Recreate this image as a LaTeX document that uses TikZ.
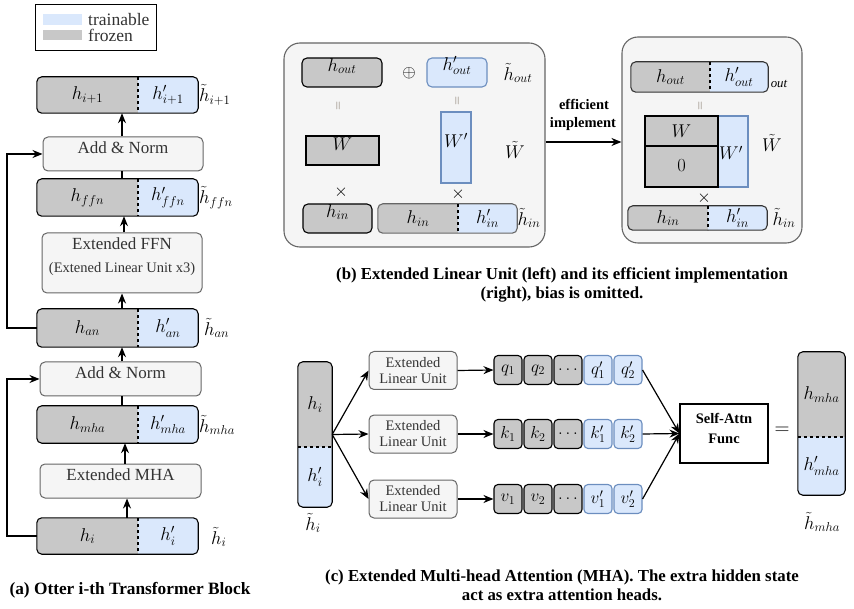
\documentclass[tikz,border=0pt]{standalone}
\usepackage{graphicx}
\usepackage{fontspec}
\setmainfont{Liberation Serif}
\usetikzlibrary{arrows.meta,fit,calc}
\definecolor{gfill}{HTML}{C8C8C8}
\definecolor{bfill}{HTML}{DAE8FC}
\definecolor{bdraw}{HTML}{6C8EBF}
\definecolor{lfill}{HTML}{F5F5F5}
\definecolor{ldraw}{HTML}{666666}
\definecolor{ltext}{HTML}{333333}
\definecolor{eqcol}{HTML}{6A5A4A}

\newcommand\mxx[1]{\scalebox{1.07}{#1}}
% horizontal split box: name, x1,y1,x2,y2, xdiv, left text, right text, border colour
\newcommand\hsplitbox[9]{%
  \node[fit={(#2,#3)(#4,#5)}, inner sep=0pt] (#1) {};
  \begin{scope}
    \clip[rounded corners=5pt] (#1.north west) rectangle (#1.south east);
    \fill[gfill] (#1.north west) rectangle (#6,#5);
    \fill[bfill] (#6,#3) rectangle (#1.south east);
  \end{scope}
  \draw[rounded corners=5pt, line width=1.1pt, draw=#9] (#1.north west) rectangle (#1.south east);
  \draw[dashed, line width=1.1pt] (#6,#3) -- (#6,#5);
  \node[mtext] at ({(#2+#6)/2},{(#3+#5)/2}) {\mxx{#7}};
  \node[mtext] at ({(#6+#4)/2},{(#3+#5)/2}) {\mxx{#8}};
}
% vertical split box: name, x1,y1,x2,y2, ydiv, top text, bottom text
\newcommand\vsplitbox[8]{%
  \node[fit={(#2,#3)(#4,#5)}, inner sep=0pt] (#1) {};
  \begin{scope}
    \clip[rounded corners=5pt] (#1.north west) rectangle (#1.south east);
    \fill[gfill] (#1.north west) rectangle (#4,#6);
    \fill[bfill] (#2,#6) rectangle (#1.south east);
  \end{scope}
  \draw[rounded corners=5pt, line width=1.1pt] (#1.north west) rectangle (#1.south east);
  \draw[dashed, line width=1.1pt] (#2,#6) -- (#4,#6);
  \node[mtext] at ({(#2+#4)/2},{(#3+#6)/2}) {\mxx{#7}};
  \node[mtext] at ({(#2+#4)/2},{(#6+#5)/2}) {\mxx{#8}};
}

\begin{document}
\begin{tikzpicture}[x=1pt,y=-1pt,
  arr/.style={-{Stealth[length=10pt,width=8pt]}, line width=1.2pt},
  ln/.style={line width=1.2pt},
  mtext/.style={font=\fontsize{17.28}{20}\selectfont, inner sep=0pt},
  lbox/.style={draw=ldraw, fill=lfill, rounded corners=5pt, line width=1pt, text=ltext, inner sep=0pt, align=center, font=\fontsize{17}{20}\selectfont},
  elubox/.style={lbox, minimum width=88pt, minimum height=38pt, font=\fontsize{14.5}{16}\selectfont},
  gbox/.style={draw=black, fill=gfill, rounded corners=5pt, line width=1.1pt, inner sep=0pt, font=\fontsize{17.28}{20}\selectfont},
  bbox/.style={draw=bdraw, fill=bfill, rounded corners=5pt, line width=1.1pt, inner sep=0pt, font=\fontsize{17.28}{20}\selectfont},
  gsq/.style={gbox, rounded corners=4pt, minimum width=28pt, minimum height=29pt, font=\fontsize{17.28}{18}\selectfont},
  bsq/.style={bbox, rounded corners=4pt, minimum width=28pt, minimum height=29pt, font=\fontsize{17.28}{18}\selectfont},
  panel/.style={draw=ldraw, fill=lfill, rounded corners=16pt, line width=1.1pt, inner sep=0pt},
  captext/.style={font=\fontsize{16.8}{19}\selectfont\bfseries, align=center, inner sep=0pt},
  eqv/.style={font=\fontsize{12}{12}\selectfont, text=eqcol, rotate=90, inner sep=0pt},
  op/.style={font=\fontsize{17.28}{17}\selectfont, inner sep=0pt}
]
\useasboundingbox (0,0) rectangle (854,609);

% ---------------- legend ----------------
\node[draw=black, line width=1pt, fit={(35,5)(156,51)}, inner sep=0pt] (legend) {};
\node[fill=bfill, fit={(43,14)(82,25)}, inner sep=0pt] (legb) {};
\node[fill=gfill, fit={(43,30)(82,40)}, inner sep=0pt] (legg) {};
\node[anchor=west, font=\fontsize{17.5}{17}\selectfont, text=ltext, inner sep=0pt] (legbt) at (88,20) {trainable};
\node[anchor=west, font=\fontsize{17.5}{17}\selectfont, text=ltext, inner sep=0pt] (leggt) at (88,35) {frozen};

% ---------------- panel (a) ----------------
\coordinate (xl) at (122,0);
\coordinate (sk) at (7,0);
\hsplitbox{hip}{37}{77}{198}{113}{138}{$h_{i+1}$}{$h'_{i+1}$}{black}
\node[mtext, anchor=west] (hipl) at (199,95) {\mxx{$\tilde h_{i+1}$}};
\node[lbox, fit={(43,137)(203,171)}] (an2) {Add \& Norm};
\hsplitbox{hffn}{37}{179}{198}{216}{138}{$h_{ffn}$}{$h'_{ffn}$}{black}
\node[mtext, anchor=west] (hffnl) at (199,198) {\mxx{$\tilde h_{ffn}$}};
\node[lbox, fit={(42,233)(202,293)}] (ffn) {Extended FFN\\[3pt]{\fontsize{14.5}{16}\selectfont(Extened Linear Unit x3)}};
\hsplitbox{han}{37}{309}{198}{347}{138}{$h_{an}$}{$h'_{an}$}{black}
\node[mtext, anchor=west] (hanl) at (204,328) {\mxx{$\tilde h_{an}$}};
\node[lbox, fit={(40,362)(201,396)}] (an1) {Add \& Norm};
\hsplitbox{hmha}{37}{406}{198}{443}{138}{$h_{mha}$}{$h'_{mha}$}{black}
\node[mtext, anchor=west] (hmhal) at (199,425) {\mxx{$\tilde h_{mha}$}};
\node[lbox, fit={(40,464)(201,498)}] (mha) {Extended MHA};
\hsplitbox{hi}{37}{518}{198}{554}{138}{$h_{i}$}{$h'_{i}$}{black}
\node[mtext, anchor=west] (hil) at (211,537) {\mxx{$\tilde h_{i}$}};

\draw[arr] ($(hi.north -| xl)+(5,0)$) -- ($(mha.south -| xl)+(5,0)$);
\draw[arr] ($(mha.north -| xl)+(3,0)$) -- ($(hmha.south -| xl)+(3,0)$);
\draw[ln] (hmha.north -| xl) -- (an1.south -| xl);
\draw[arr] (an1.north -| xl) -- (han.south -| xl);
\draw[arr] (han.north -| xl) -- (ffn.south -| xl);
\draw[arr] ($(ffn.north -| xl)+(2,0)$) -- ($(hffn.south -| xl)+(2,0)$);
\draw[ln] (hffn.north -| xl) -- (an2.south -| xl);
\draw[arr] (an2.north -| xl) -- (hip.south -| xl);
\draw[arr] (hi.west) -- (hi.west -| sk) |- (an1.west);
\draw[arr] (han.west) -- (han.west -| sk) |- (an2.west);

\node[captext, font=\fontsize{17.3}{19}\selectfont\bfseries] (capa) at (130,590) {(a) Otter i-th Transformer Block};

% ---------------- panel (b) ----------------
\node[panel, fit={(284,43)(545,247)}] (pl) {};
\node[panel, fit={(622,37)(802,243)}] (pr) {};

\node[gbox, fit={(302,58)(382,87)}] (bhout) {\mxx{$h_{out}$}};
\node[op] (oplus) at (409,73) {$\oplus$};
\node[bbox, fit={(427,58)(487,87)}] (bhoutp) {\mxx{$h'_{out}$}};
\node[mtext] (bhoutl) at (518,73) {\mxx{$\tilde h_{out}$}};
\node[eqv] (eq1) at (339,106) {$=$};
\node[eqv] (eq2) at (458,101) {$=$};
\node[gbox, rounded corners=0pt, fit={(306,136)(379,165)}] (bW) {\mxx{$W$}};
\node[bbox, rounded corners=0pt, fit={(441,112)(471,183)}] (bWp) {\mxx{$W'$}};
\node[mtext] (bWl) at (515,150) {\mxx{$\tilde W$}};
\node[op] (x1) at (341,192) {$\times$};
\node[op] (x2) at (458,194) {$\times$};
\node[gbox, fit={(303,204)(372,233)}] (bhin) {\mxx{$h_{in}$}};
\hsplitbox{bhinx}{378}{204}{517}{233}{458}{$h_{in}$}{$h'_{in}$}{ldraw}
\node[mtext] (bhinl) at (529,218) {\mxx{$\tilde h_{in}$}};

\draw[arr] (pl.east |- 0,142) -- (pr.west |- 0,142);
\node[font=\fontsize{14.5}{16}\selectfont\bfseries, inner sep=0pt] (eff1) at (584,104) {efficient};
\node[font=\fontsize{14.5}{16}\selectfont\bfseries, inner sep=0pt] (eff2) at (583,124) {implement};

\hsplitbox{rhout}{631}{62}{768}{92}{710}{$h_{out}$}{$h'_{out}$}{ltext}
\node[font=\fontsize{12}{14}\selectfont, inner sep=0pt] (rhoutl) at (779,84) {\mxx{$\mathit{out}$}};
\node[eqv] (eq3) at (701,106) {$=$};
\node[draw=black, fill=gfill, line width=1.2pt, fit={(645,116)(718,187)}, inner sep=0pt] (rW) {};
\draw[line width=1.2pt] (645,146) -- (718,146);
\node[mtext] (rWt) at (681.5,131) {\mxx{$W$}};
\node[mtext] (rW0) at (681.5,166) {\mxx{$0$}};
\node[bbox, rounded corners=0pt, fit={(718,116)(748,187)}] (rWp) {};
\node[mtext] (rWpt) at (731,153) {\mxx{$W'$}};
\draw[line width=1.2pt] (718,116) rectangle (645,187);
\node[mtext] (rWl) at (772,143) {\mxx{$\tilde W$}};
\node[op] (x3) at (704,198) {$\times$};
\hsplitbox{rhin}{628}{206}{767}{230}{708}{$h_{in}$}{$h'_{in}$}{ltext}
\node[mtext] (rhinl) at (784,218) {\mxx{$\tilde h_{in}$}};

\node[captext] (capb) at (562,285) {(b) Extended Linear Unit (left) and its efficient implementation\\(right), bias is omitted.};

% ---------------- panel (c) ----------------
\vsplitbox{ch}{298}{362}{332}{507}{447}{$h_i$}{$h'_i$}
\node[mtext] (chl) at (313,523) {\mxx{$\tilde h_i$}};

\node[elubox] (eq) at (413,370.5) {Extended\\Linear Unit};
\node[elubox] (ek) at (413,434) {Extended\\Linear Unit};
\node[elubox] (ev) at (413,499) {Extended\\Linear Unit};
\draw[arr] (ch.east) -- (eq.west);
\draw[arr] (ch.east) -- (ek.west);
\draw[arr] (ch.east) -- (ev.west);

\foreach \r/\y/\s in {q/370/q, k/434/k, v/499/v} {
  \node[gsq] (\r1) at (508,\y) {$\s_1$};
  \node[gsq] (\r2) at (538,\y) {$\s_2$};
  \node[gsq] (\r3) at (568,\y) {$\dots$};
  \node[bsq] (\r4) at (598,\y) {$\s'_1$};
  \node[bsq] (\r5) at (628,\y) {$\s'_2$};
}
\draw[arr] (eq.east) -- (q1.west);
\draw[arr] (ek.east) -- (k1.west);
\draw[arr] (ev.east) -- (v1.west);

\node[draw=black, fill=white, line width=1.1pt, fit={(680,404)(768,463)}, inner sep=0pt, align=center, font=\fontsize{14.5}{20}\selectfont\bfseries] (sa) {Self-Attn\\Func};
\draw[arr] (q5.east) -- (sa.west);
\draw[arr] (k5.east) -- (sa.west);
\draw[arr] (v5.east) -- (sa.west);

\node[font=\fontsize{20.74}{22}\selectfont, inner sep=0pt] (eqs) at (782,431) {$=$};
\vsplitbox{cm}{798}{352}{845}{495}{437}{$h_{mha}$}{$h'_{mha}$}
\node[mtext] (cml) at (822,522) {\mxx{$\tilde h_{mha}$}};

\node[captext] (capc) at (562,585) {(c) Extended Multi-head Attention (MHA). The extra hidden state\\act as extra attention heads.};
\end{tikzpicture}
\end{document}
